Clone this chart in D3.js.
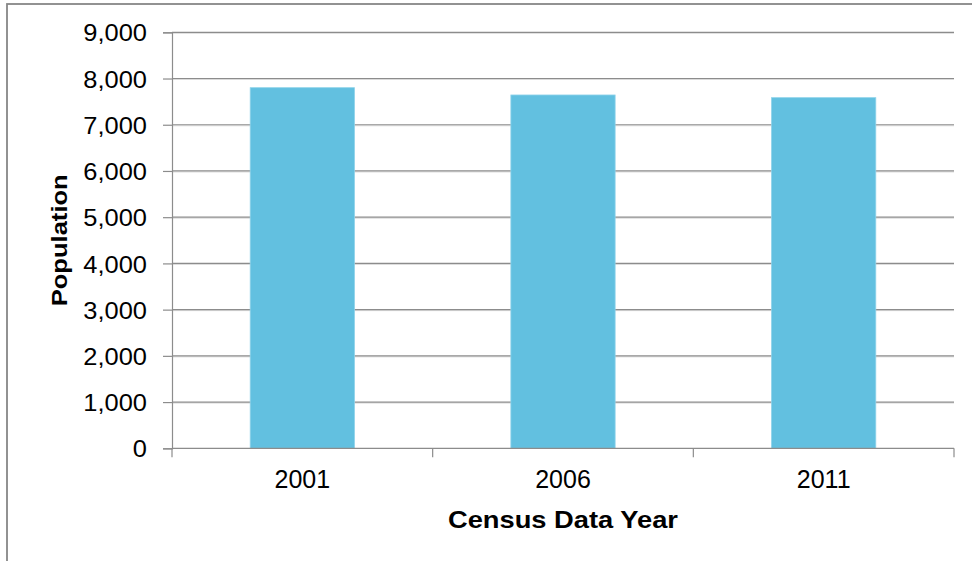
<!DOCTYPE html>
<html>
<head>
<meta charset="utf-8">
<script src="https://cdn.jsdelivr.net/npm/d3@7"></script>
<style>
  html, body { margin: 0; padding: 0; background: #fff; }
  svg { display: block; }
  text { font-family: "Liberation Sans", Arial, sans-serif; fill: #000; }
</style>
</head>
<body>
<svg id="chart" width="972" height="561"></svg>
<script>
const years = ["2001", "2006", "2011"];
const population = [7802, 7644, 7586];
const yTicks = [0, 1000, 2000, 3000, 4000, 5000, 6000, 7000, 8000, 9000];
const xTitle = "Census Data Year";
const yTitle = "Population";

(function () {
const svg = d3.select("#chart");
const pL = 172, pR = 954, pT = 32.3, pB = 448.3;

// outer frame
svg.append("rect").attr("x", 7).attr("y", 4).attr("width", 1000).attr("height", 600)
  .attr("fill", "#fff").attr("stroke", "#878787").attr("stroke-width", 1.8);

const x = d3.scaleBand().domain(years).range([pL, pR]).paddingInner(0.6).paddingOuter(0.3);
const y = d3.scaleLinear().domain([0, 9000]).range([pB, pT]);

// gridlines
const grid = svg.append("g");
yTicks.filter(t => t > 0).forEach(t => {
  grid.append("line").attr("x1", pL).attr("x2", pR)
    .attr("y1", y(t) + 1).attr("y2", y(t) + 1).attr("stroke", "#dadada").attr("stroke-width", 1);
  grid.append("line").attr("x1", pL).attr("x2", pR)
    .attr("y1", y(t)).attr("y2", y(t)).attr("stroke", "#8c8c8c").attr("stroke-width", 1.2);
});

// bars
svg.append("g").selectAll("rect").data(years).join("rect")
  .attr("x", d => x(d))
  .attr("y", (d, i) => y(population[i]))
  .attr("width", x.bandwidth())
  .attr("height", (d, i) => y(0) - y(population[i]))
  .attr("fill", "#62c0e0")
  .attr("stroke", "#8fd3ea").attr("stroke-width", 0.8);

// y axis
const yAxis = svg.append("g").attr("transform", `translate(${pL},0)`)
  .call(d3.axisLeft(y).tickValues(yTicks).tickSize(9).tickPadding(16).tickFormat(d3.format(",")));
yAxis.select(".domain").attr("stroke", "#8c8c8c").attr("stroke-width", 1.2);
yAxis.selectAll(".tick line").attr("stroke", "#8c8c8c").attr("stroke-width", 1.2);
yAxis.selectAll(".tick text").style("font-size", "24px").style("fill", "#000")
  .attr("dy", "0.36em").attr("transform", "scale(1.06,1)").attr("x", -25 / 1.06);

// x axis
const boundaries = d3.range(years.length + 1).map(i => pL + i * x.step());
const xg = svg.append("g");
xg.append("line").attr("x1", pL).attr("x2", pR).attr("y1", pB).attr("y2", pB)
  .attr("stroke", "#8c8c8c").attr("stroke-width", 1.2);
xg.selectAll("line.tk").data(boundaries).join("line").attr("class", "tk")
  .attr("x1", d => d).attr("x2", d => d).attr("y1", pB).attr("y2", pB + 9)
  .attr("stroke", "#8c8c8c").attr("stroke-width", 1.2);
xg.selectAll("text").data(years).join("text")
  .attr("x", d => x(d) + x.bandwidth() / 2)
  .attr("y", 487.5)
  .attr("text-anchor", "middle")
  .style("font-size", "25px")
  .text(d => d);

// axis titles
svg.append("text").attr("x", (pL + pR) / 2).attr("y", 528.3)
  .attr("text-anchor", "middle").style("font-size", "24px").style("font-weight", "bold")
  .attr("textLength", 230).attr("lengthAdjust", "spacingAndGlyphs")
  .text(xTitle);
svg.append("text").attr("transform", `translate(66.5,${(pT + pB) / 2}) rotate(-90)`)
  .attr("text-anchor", "middle").style("font-size", "22px").style("font-weight", "bold")
  .attr("textLength", 132).attr("lengthAdjust", "spacingAndGlyphs")
  .text(yTitle);
})();
</script>
</body>
</html>
